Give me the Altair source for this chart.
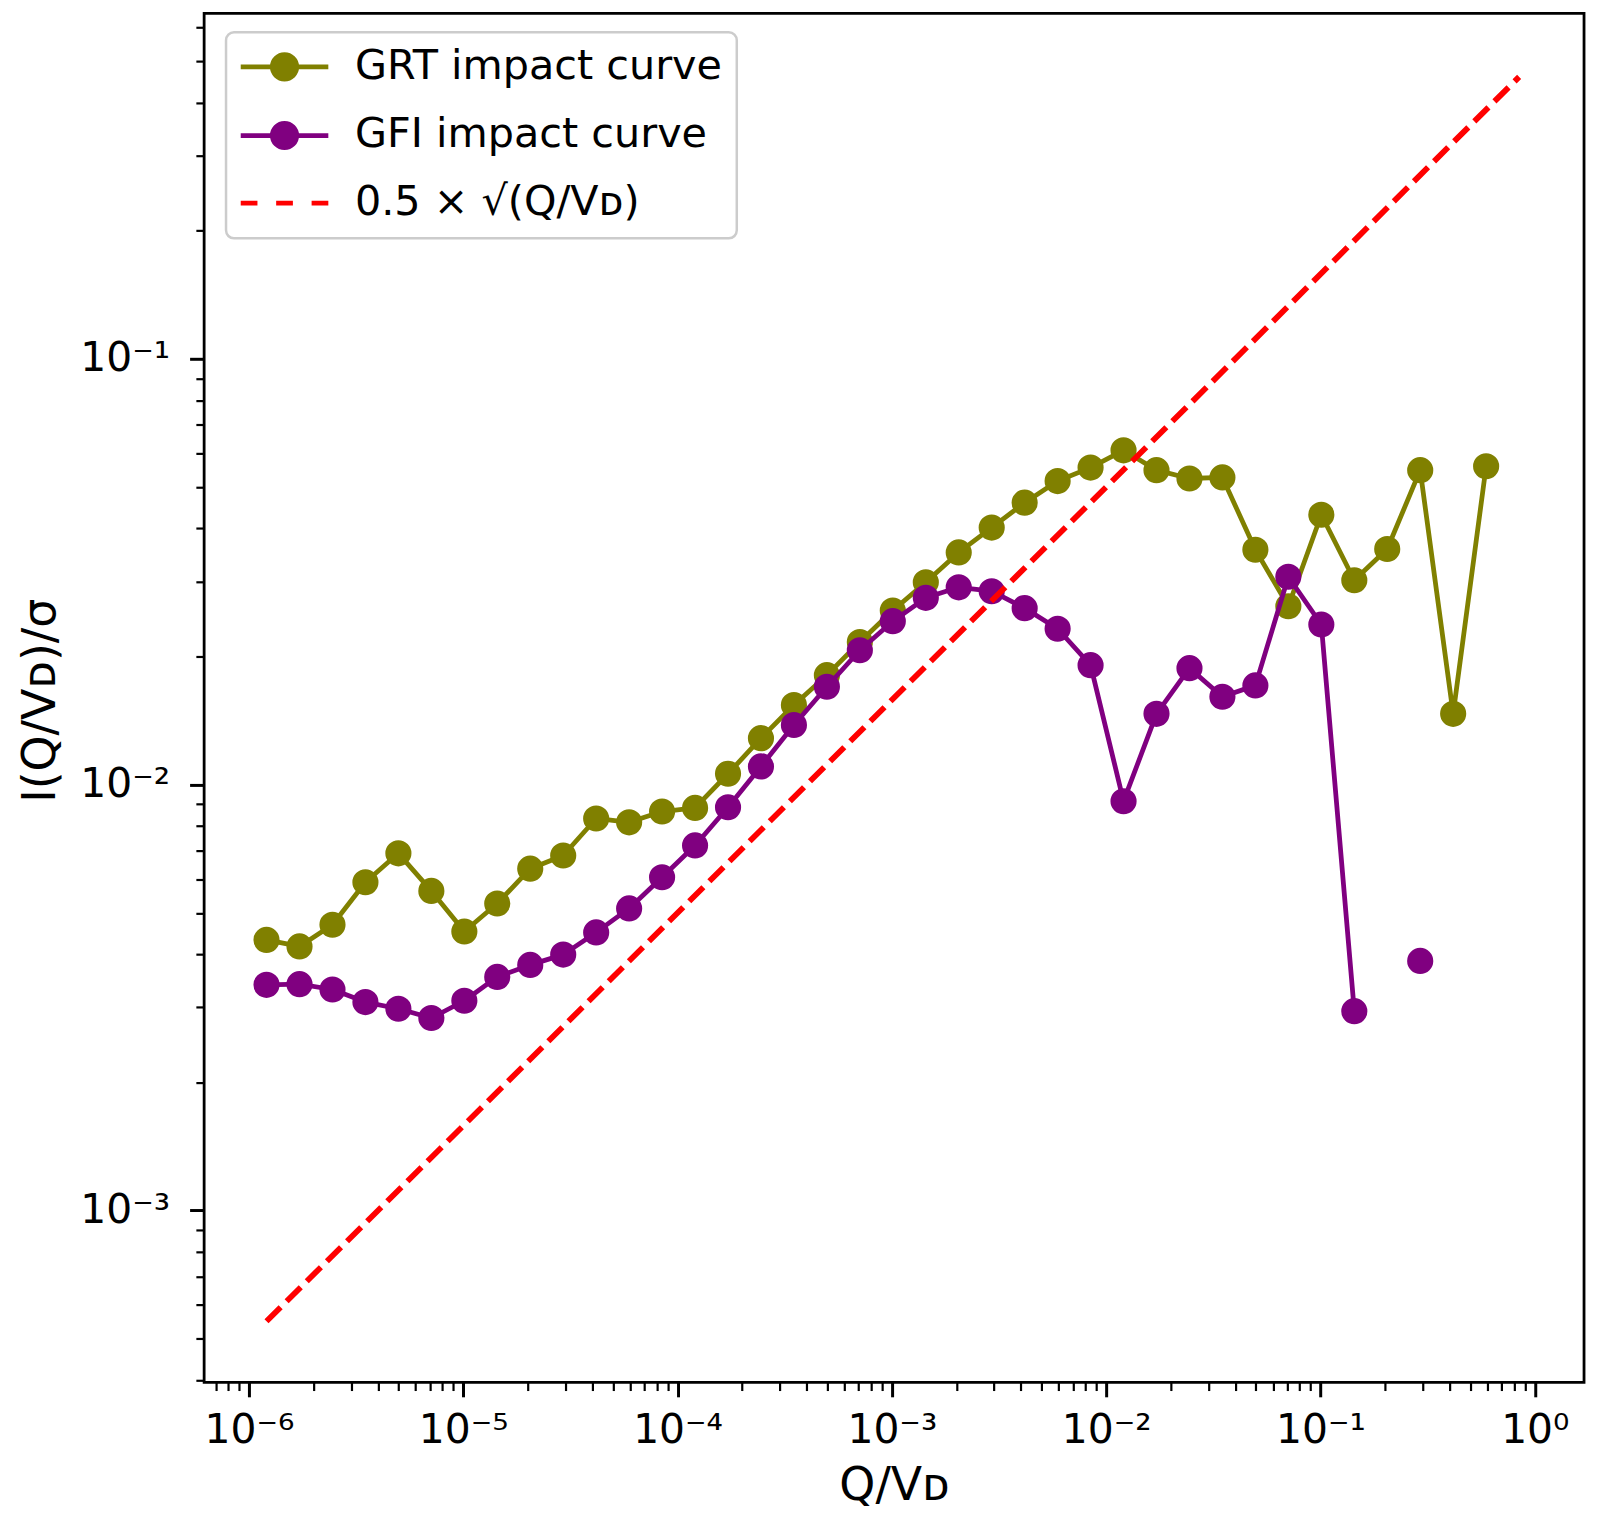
import math
import altair as alt
import pandas as pd

# ---------------- data ----------------
Q = [1.208e-6, 1.722e-6, 2.454e-6, 3.496e-6, 4.982e-6, 7.099e-6, 1.012e-5, 1.441e-5,
     2.054e-5, 2.927e-5, 4.171e-5, 5.943e-5, 8.468e-5, 1.207e-4, 1.720e-4, 2.450e-4,
     3.491e-4, 4.975e-4, 7.089e-4, 1.010e-3, 1.440e-3, 2.051e-3, 2.923e-3, 4.165e-3,
     5.935e-3, 8.456e-3, 1.205e-2, 1.717e-2, 2.447e-2, 3.486e-2, 4.968e-2, 7.079e-2,
     0.1009, 0.1438, 0.2048, 0.2919, 0.4159, 0.5927]

GRT = [0.00432, 0.00417, 0.00469, 0.00590, 0.00690, 0.00563, 0.00452, 0.00526,
       0.00635, 0.00682, 0.00833, 0.00816, 0.00865, 0.00882, 0.01061, 0.01286,
       0.01539, 0.01808, 0.02163, 0.02565, 0.02987, 0.03511, 0.04016, 0.04596,
       0.05165, 0.05555, 0.06100, 0.05479, 0.05237, 0.05269, 0.03562, 0.02625,
       0.04305, 0.03021, 0.03578, 0.05479, 0.01467, 0.05596]

GFI = [0.003388, 0.003401, 0.003304, 0.003087, 0.002977, 0.002832, 0.003109, 0.003537,
       0.003774, 0.003990, 0.004499, 0.005122, 0.006062, 0.007200, 0.008850, 0.01104,
       0.01381, 0.01698, 0.02069, 0.02421, 0.02747, 0.02908, 0.02847, 0.02598,
       0.02324, 0.01909, 0.009146, 0.01467, 0.01878, 0.01609, 0.01711, 0.03078,
       0.02378, 0.002938, None, 0.003857, None, None]

REF_Q = [1.208e-6, 0.845]      # extent of the reference line
REF_COEF = 0.5                 # 0.5 * sqrt(Q/V_D)

SERIES = ["GRT impact curve", "GFI impact curve", "0.5 × √(Q/Vᴅ)"]
COLORS = ["#808000", "#800080", "#ff0000"]

X_TICK_EXP = [-6, -5, -4, -3, -2, -1, 0]
X_TICK_LABELS = ["10⁻⁶", "10⁻⁵", "10⁻⁴", "10⁻³", "10⁻²", "10⁻¹", "10⁰"]
Y_TICK_EXP = [-3, -2, -1]
Y_TICK_LABELS = ["10⁻³", "10⁻²", "10⁻¹"]

X_DOMAIN = [6.18e-7, 1.697]
Y_DOMAIN = [3.95e-4, 0.648]

# ---------------- tables ----------------
rows = []
for name, vals in [(SERIES[0], GRT), (SERIES[1], GFI)]:
    seg = 0
    for q, v in zip(Q, vals):
        if v is None:
            seg += 1
            continue
        rows.append({"series": name, "q": q, "v": v, "seg": seg})
df = pd.DataFrame(rows)

ref_df = pd.DataFrame({"q": REF_Q, "v": [REF_COEF * math.sqrt(q) for q in REF_Q]})
legend_df = pd.DataFrame({"series": SERIES})


def log_ticks(lo, hi):
    out = []
    for e in range(math.floor(math.log10(lo)), math.ceil(math.log10(hi)) + 1):
        for m in range(1, 10):
            t = m * 10.0 ** e
            if lo <= t <= hi:
                out.append(t)
    return out


MAJOR = "abs(log(datum.value)/LN10 - round(log(datum.value)/LN10)) < 1e-6"


def label_expr(exps, labels):
    expr = "''"
    for e, lab in reversed(list(zip(exps, labels))):
        expr = f"(round(log(datum.value)/LN10) == {e} ? '{lab}' : {expr})"
    return f"{MAJOR} ? {expr} : ''"


FONT = "DejaVu Sans"
tick_size = {"condition": {"test": MAJOR, "value": 14.6}, "value": 8.3}
tick_width = {"condition": {"test": MAJOR, "value": 3.0}, "value": 2.2}

x_axis = alt.Axis(
    values=log_ticks(*X_DOMAIN), labelExpr=label_expr(X_TICK_EXP, X_TICK_LABELS),
    title="Q/Vᴅ", tickSize=tick_size, tickWidth=tick_width, tickColor="black",
    domain=False, grid=False, labelFont=FONT, labelFontSize=41, labelColor="black",
    labelPadding=14, labelOverlap=False, labelFlush=False,
    titleFont=FONT, titleFontSize=46, titleFontWeight="normal", titleColor="black",
    titleY=104, titleBaseline="middle",
)
y_axis = alt.Axis(
    values=log_ticks(*Y_DOMAIN), labelExpr=label_expr(Y_TICK_EXP, Y_TICK_LABELS),
    title="I(Q/Vᴅ)/σ", tickSize=tick_size, tickWidth=tick_width, tickColor="black",
    domain=False, grid=False, labelFont=FONT, labelFontSize=41, labelColor="black",
    labelPadding=20, labelOverlap=False, labelFlush=False,
    titleFont=FONT, titleFontSize=46, titleFontWeight="normal", titleColor="black",
    titleX=-164, titleY=690, titleAlign="center", titleBaseline="middle",
)

X = alt.X("q:Q", scale=alt.Scale(type="log", domain=X_DOMAIN, nice=False), axis=x_axis)
Y = alt.Y("v:Q", scale=alt.Scale(type="log", domain=Y_DOMAIN, nice=False), axis=y_axis)

layers = []
for name, col in zip(SERIES[:2], COLORS[:2]):
    base = alt.Chart(df).transform_filter(alt.datum.series == name)
    layers.append(base.mark_line(color=col, strokeWidth=4.8, strokeJoin="round", clip=True)
                  .encode(x=X, y=Y, detail="seg:N"))
    layers.append(base.mark_circle(color=col, size=690, opacity=1, clip=True)
                  .encode(x=X, y=Y))

layers.append(alt.Chart(ref_df).mark_line(color=COLORS[2], strokeWidth=5.8,
                                          strokeDash=[20, 8.5], clip=True)
              .encode(x=X, y=Y))

# legend: line + marker symbols, dashed symbol for the reference line
LINE_DOT = ("M-2.444,0H2.444M0.68,0A0.68,0.68,0,1,1,-0.68,0"
            "A0.68,0.68,0,1,1,0.68,0Z")
DASHES = "M-2.444,0H-1.511M-0.467,0H0.467M1.511,0H2.444"
SHAPES = [LINE_DOT, LINE_DOT, DASHES]

leg = alt.Legend(
    title=None, orient="none", legendX=22, legendY=19, padding=14, rowPadding=24,
    fillColor="white", strokeColor="#cccccc", cornerRadius=8,
    symbolSize=1296, symbolStrokeWidth=4.8, symbolOpacity=1, symbolOffset=24,
    labelOffset=50, labelFont=FONT, labelFontSize=41.5, labelColor="black",
    labelLimit=2000,
)
layers.append(
    alt.Chart(legend_df).transform_filter("false").mark_point(filled=True, opacity=1)
    .encode(
        fill=alt.Fill("series:N", scale=alt.Scale(domain=SERIES, range=COLORS), legend=leg),
        stroke=alt.Stroke("series:N", scale=alt.Scale(domain=SERIES, range=COLORS), legend=leg),
        shape=alt.Shape("series:N", scale=alt.Scale(domain=SERIES, range=SHAPES), legend=leg),
    )
)

chart = (
    alt.layer(*layers)
    .properties(width=1386, height=1375,
                autosize=alt.AutoSizeParams(type="none"),
                padding={"left": 197, "top": 2, "right": 8, "bottom": 138})
    .configure(font=FONT)
    .configure_view(stroke="black", strokeWidth=2.8)
    .configure_legend(strokeWidth=2.5)
)

chart.save("out.html", embed_options={"renderer": "svg", "actions": False})
